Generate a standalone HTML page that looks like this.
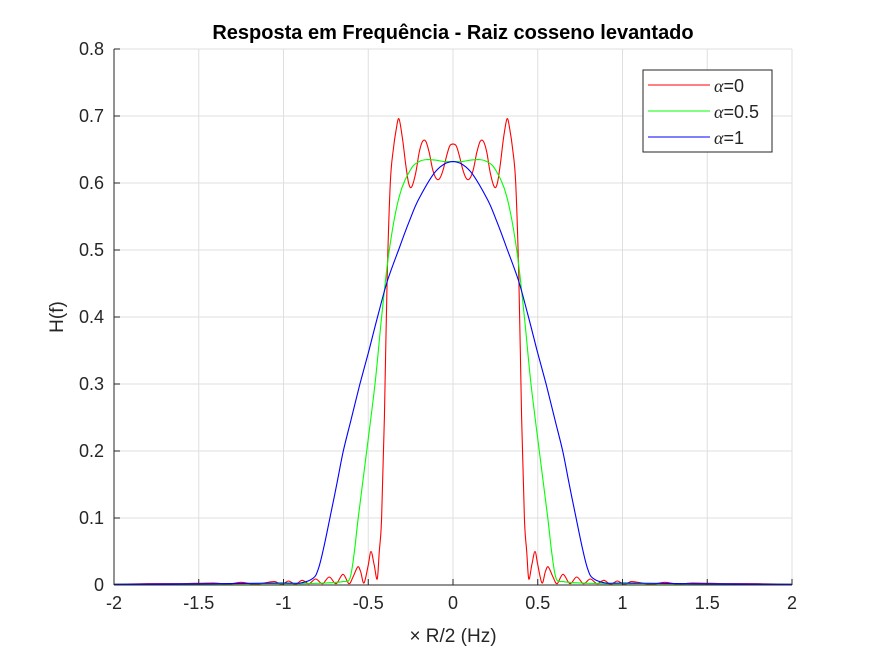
<!DOCTYPE html>
<html><head><meta charset="utf-8"><style>
body{margin:0;background:#fff;}
svg{display:block;font-family:"Liberation Sans",sans-serif;}
</style></head><body>
<svg id="chart" width="875" height="656" xmlns="http://www.w3.org/2000/svg">
<rect x="0" y="0" width="875" height="656" fill="#fff"/>
<rect x="114" y="49" width="678" height="536" fill="#fff"/>
<g id="grid"></g>
<g id="series"></g>
<g id="axes"></g>
<text x="453" y="39" text-anchor="middle" font-size="20" font-weight="bold">Resposta em Frequência - Raiz cosseno levantado</text>
<text x="453" y="642" text-anchor="middle" font-size="19" fill="#262626">× R/2 (Hz)</text>
<text transform="translate(63,317) rotate(-90)" text-anchor="middle" font-size="19" fill="#262626">H(f)</text>
<g>
<rect x="643" y="70" width="129" height="82" fill="#fff" stroke="#262626" stroke-width="1"/>
<line x1="648" y1="85" x2="710" y2="85" stroke="#f00"/>
<text x="714" y="92" font-size="18" fill="#262626"><tspan font-family="Liberation Serif,serif" font-style="italic">α</tspan>=0</text>
<line x1="648" y1="111" x2="710" y2="111" stroke="#0f0"/>
<text x="714" y="118" font-size="18" fill="#262626"><tspan font-family="Liberation Serif,serif" font-style="italic">α</tspan>=0.5</text>
<line x1="648" y1="137" x2="710" y2="137" stroke="#00f"/>
<text x="714" y="144" font-size="18" fill="#262626"><tspan font-family="Liberation Serif,serif" font-style="italic">α</tspan>=1</text>
</g>
</svg>
<script>
const xTicks=[-2,-1.5,-1,-0.5,0,0.5,1,1.5,2];
const xTickLabels=["-2","-1.5","-1","-0.5","0","0.5","1","1.5","2"];
const yTicks=[0,0.1,0.2,0.3,0.4,0.5,0.6,0.7,0.8];
const yTickLabels=["0","0.1","0.2","0.3","0.4","0.5","0.6","0.7","0.8"];

const redX=[-2,-1.8,-1.6,-1.41,-1.33,-1.25,-1.17,-1.09,-1.05,-1.01,-0.97,-0.93,-0.89,-0.85,-0.81,-0.77,-0.73,-0.69,-0.649,-0.614,-0.59,-0.562,-0.545,-0.525,-0.5,-0.484,-0.465,-0.447,-0.435,-0.421,-0.405,-0.388,-0.37,-0.352,-0.335,-0.319,-0.3,-0.28,-0.262,-0.244,-0.22,-0.2,-0.18,-0.16,-0.14,-0.12,-0.1,-0.081,-0.06,-0.04,-0.02,0,0.02,0.04,0.06,0.081,0.1,0.12,0.14,0.16,0.18,0.2,0.22,0.244,0.262,0.28,0.3,0.319,0.335,0.352,0.37,0.388,0.405,0.421,0.435,0.447,0.465,0.484,0.5,0.525,0.545,0.562,0.59,0.614,0.649,0.69,0.73,0.77,0.81,0.85,0.89,0.93,0.97,1.01,1.05,1.09,1.17,1.25,1.33,1.41,1.6,1.8,2];
const redY=[0.001,0.002,0.002,0.003,0.001,0.004,0.001,0.004,0.005,0.001,0.006,0.001,0.007,0.002,0.009,0.002,0.012,0.002,0.016,0.002,0.012,0.027,0.02,0.003,0.03,0.05,0.03,0.009,0.05,0.1,0.25,0.46,0.6,0.65,0.68,0.696,0.67,0.63,0.6,0.594,0.615,0.645,0.662,0.662,0.645,0.62,0.607,0.606,0.618,0.638,0.655,0.658,0.655,0.638,0.618,0.606,0.607,0.62,0.645,0.662,0.662,0.645,0.615,0.594,0.6,0.63,0.67,0.696,0.68,0.65,0.6,0.46,0.25,0.1,0.05,0.009,0.03,0.05,0.03,0.003,0.02,0.027,0.012,0.002,0.016,0.002,0.012,0.002,0.009,0.002,0.007,0.001,0.006,0.001,0.005,0.004,0.001,0.004,0.001,0.003,0.002,0.002,0.001];

const greenX=[-2,-1.2,-0.9,-0.75,-0.65,-0.608,-0.582,-0.559,-0.509,-0.46,-0.421,-0.376,-0.317,-0.25,-0.2,-0.155,-0.1,-0.05,0,0.05,0.1,0.155,0.2,0.25,0.317,0.376,0.421,0.46,0.509,0.559,0.582,0.608,0.65,0.75,0.9,1.2,2];
const greenY=[0.001,0.002,0.002,0.003,0.005,0.01,0.05,0.1,0.2,0.3,0.4,0.5,0.58,0.62,0.632,0.635,0.634,0.632,0.632,0.632,0.634,0.635,0.632,0.62,0.58,0.5,0.4,0.3,0.2,0.1,0.05,0.01,0.005,0.003,0.002,0.002,0.001];

const blueX=[-2,-1.4,-1,-0.9,-0.826,-0.796,-0.765,-0.726,-0.686,-0.647,-0.598,-0.549,-0.494,-0.44,-0.388,-0.317,-0.258,-0.2,-0.1,0,0.1,0.2,0.258,0.317,0.388,0.44,0.494,0.549,0.598,0.647,0.686,0.726,0.765,0.796,0.826,0.9,1,1.4,2];
const blueY=[0.001,0.002,0.003,0.003,0.01,0.023,0.053,0.1,0.15,0.2,0.25,0.3,0.352,0.405,0.453,0.503,0.543,0.577,0.618,0.632,0.618,0.577,0.543,0.503,0.453,0.405,0.352,0.3,0.25,0.2,0.15,0.1,0.053,0.023,0.01,0.003,0.003,0.002,0.001];

const X0=114,X1=792,Y0=585,Y1=49;
function sx(v){return X0+(v+2)/4*(X1-X0);}
function sy(v){return Y0-v/0.8*(Y0-Y1);}
const NS="http://www.w3.org/2000/svg";
function mk(tag,attrs,parent){const e=document.createElementNS(NS,tag);for(const k in attrs)e.setAttribute(k,attrs[k]);parent.appendChild(e);return e;}
const grid=document.getElementById('grid'),axes=document.getElementById('axes'),series=document.getElementById('series');
xTicks.forEach((t,i)=>{
  const g=mk('line',{x1:sx(t),x2:sx(t),y1:Y0,y2:Y1,stroke:'#dfdfdf','stroke-width':1},grid);
  
  
  const tk=mk('line',{x1:sx(t),x2:sx(t),y1:Y0,y2:Y0-6,stroke:'#262626'},axes);
  
  
  const tx=mk('text',{x:sx(t),y:Y0+24,'text-anchor':'middle','font-size':18,fill:'#262626'},axes);
  tx.textContent=xTickLabels[i];
  
  
});
yTicks.forEach((t,i)=>{
  const g=mk('line',{x1:X0,x2:X1,y1:sy(t),y2:sy(t),stroke:'#dfdfdf','stroke-width':1},grid);
  
  
  const tk=mk('line',{x1:X0,x2:X0+6,y1:sy(t),y2:sy(t),stroke:'#262626'},axes);
  
  
  const tx=mk('text',{x:X0-10,y:sy(t)+6,'text-anchor':'end','font-size':18,fill:'#262626'},axes);
  tx.textContent=yTickLabels[i];
  
  
});
const xa=mk('line',{x1:X0,x2:X1,y1:Y0,y2:Y0,stroke:'#262626'},axes);


const ya=mk('line',{x1:X0,x2:X0,y1:Y0,y2:Y1,stroke:'#262626'},axes);


function line(xs,ys,color,name){
  const P=xs.map((x,i)=>[sx(x),sy(ys[i])]);
  let d='M'+P[0][0].toFixed(1)+','+P[0][1].toFixed(1);
  for(let i=0;i<P.length-1;i++){
    const p0=P[Math.max(0,i-1)],p1=P[i],p2=P[i+1],p3=P[Math.min(P.length-1,i+2)];
    const c1=[p1[0]+(p2[0]-p0[0])/6,p1[1]+(p2[1]-p0[1])/6];
    const c2=[p2[0]-(p3[0]-p1[0])/6,p2[1]-(p3[1]-p1[1])/6];
    d+='C'+c1[0].toFixed(1)+','+c1[1].toFixed(1)+' '+c2[0].toFixed(1)+','+c2[1].toFixed(1)+' '+p2[0].toFixed(1)+','+p2[1].toFixed(1);
  }
  const p=mk('path',{d:d,fill:'none',stroke:color,'stroke-width':1.1,'stroke-linejoin':'round'},series);
  
  
}
line(redX,redY,'#f00','series-alpha-0');
line(greenX,greenY,'#0f0','series-alpha-0.5');
line(blueX,blueY,'#00f','series-alpha-1');
</script>
</body></html>
